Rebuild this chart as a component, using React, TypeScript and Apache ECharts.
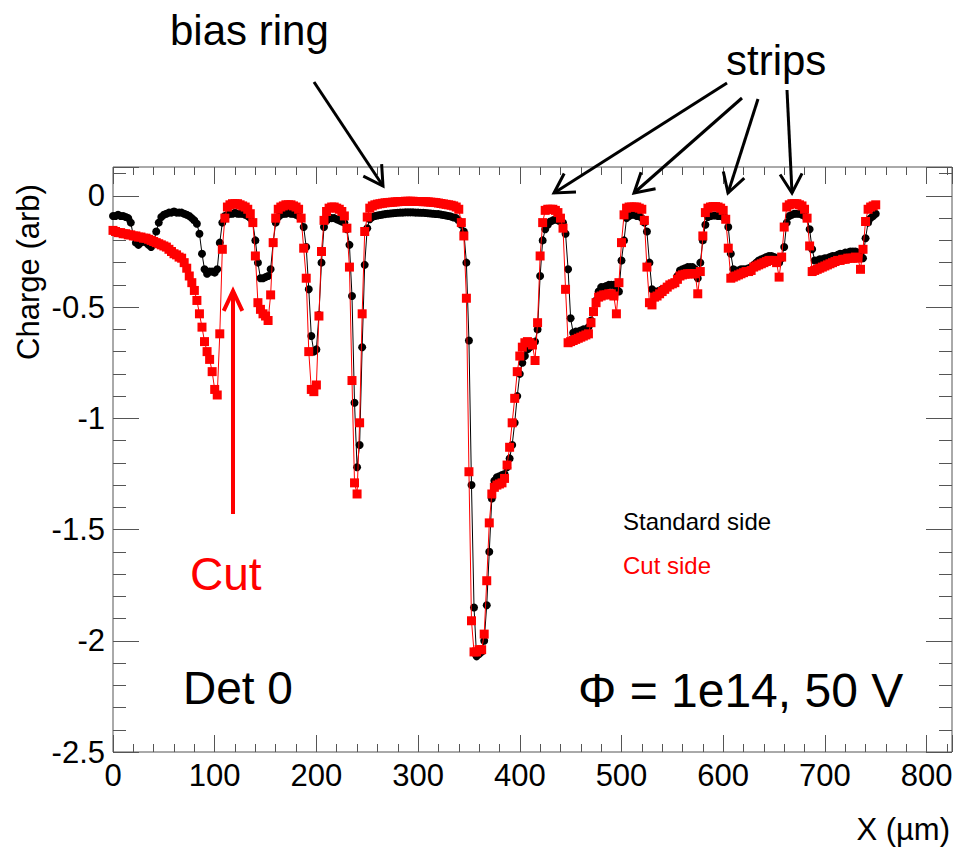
import React, { useEffect, useRef } from 'react';
import * as echarts from 'echarts';

// ---- scan grid (µm) ----
const X_START = 0;
const X_STEP = 2.5;

// ---- axis ranges / ticks ----
const X_MIN = 0;
const X_MAX = 825;
const X_MAJOR = 100;
const X_MINOR = 20;
const Y_MIN = -2.5;
const Y_MAX = 0.13;
const Y_MAJOR = 0.5;
const Y_MINOR = 0.1;

// ---- Standard side (black circles), one value per scan step ----
const STD_SIDE = [
  /*   0 */ -0.09, -0.09, -0.085, -0.09, -0.09, -0.095, -0.10, -0.12, -0.18, -0.21,
  /*  25 */ -0.22, -0.21, -0.20, -0.21, -0.22, -0.23, -0.21, -0.16, -0.12, -0.095,
  /*  50 */ -0.085, -0.08, -0.075, -0.075, -0.07, -0.075, -0.075, -0.075, -0.08, -0.085,
  /*  75 */ -0.09, -0.10, -0.11, -0.125, -0.17, -0.26, -0.33, -0.35, -0.34, -0.34,
  /* 100 */ -0.345, -0.33, -0.21, -0.12, -0.09, -0.085, -0.08, -0.08, -0.075, -0.08,
  /* 125 */ -0.08, -0.08, -0.085, -0.09, -0.10, -0.12, -0.20, -0.30, -0.37, -0.37,
  /* 150 */ -0.365, -0.36, -0.33, -0.21, -0.12, -0.095, -0.085, -0.08, -0.08, -0.075,
  /* 175 */ -0.08, -0.08, -0.085, -0.09, -0.10, -0.14, -0.23, -0.42, -0.63, -0.70,
  /* 200 */ -0.69, -0.535, -0.30, -0.14, -0.11, -0.10, -0.10, -0.10, -0.105, -0.11,
  /* 225 */ -0.115, -0.12, -0.15, -0.22, -0.45, -0.93, -1.22, -1.12, -0.68, -0.31,
  /* 250 */ -0.145, -0.105, -0.095, -0.09, -0.088, -0.086, -0.084, -0.082, -0.08, -0.079,
  /* 275 */ -0.078, -0.077, -0.076, -0.075, -0.075, -0.074, -0.074, -0.074, -0.074, -0.075,
  /* 300 */ -0.075, -0.076, -0.076, -0.077, -0.078, -0.079, -0.08, -0.081, -0.082, -0.084,
  /* 325 */ -0.086, -0.088, -0.09, -0.093, -0.097, -0.10, -0.11, -0.13, -0.16, -0.30,
  /* 350 */ -0.65, -1.30, -1.85, -2.07, -2.06, -2.05, -2.00, -1.84, -1.60, -1.36,
  /* 375 */ -1.28, -1.265, -1.26, -1.255, -1.25, -1.22, -1.18, -1.12, -1.02, -0.90,
  /* 400 */ -0.80, -0.75, -0.72, -0.69, -0.68, -0.665, -0.655, -0.60, -0.36, -0.20,
  /* 425 */ -0.15, -0.13, -0.115, -0.11, -0.105, -0.11, -0.115, -0.12, -0.17, -0.33,
  /* 450 */ -0.55, -0.615, -0.61, -0.61, -0.605, -0.60, -0.60, -0.59, -0.56, -0.52,
  /* 475 */ -0.47, -0.43, -0.41, -0.41, -0.405, -0.40, -0.40, -0.40, -0.41, -0.43,
  /* 500 */ -0.29, -0.20, -0.10, -0.09, -0.085, -0.085, -0.09, -0.09, -0.10, -0.12,
  /* 525 */ -0.16, -0.30, -0.42, -0.43, -0.43, -0.425, -0.42, -0.415, -0.41, -0.40,
  /* 550 */ -0.395, -0.39, -0.36, -0.335, -0.33, -0.325, -0.32, -0.32, -0.32, -0.33,
  /* 575 */ -0.37, -0.30, -0.20, -0.13, -0.095, -0.09, -0.088, -0.088, -0.09, -0.09,
  /* 600 */ -0.095, -0.10, -0.14, -0.26, -0.33, -0.335, -0.335, -0.33, -0.33, -0.33,
  /* 625 */ -0.325, -0.32, -0.31, -0.30, -0.29, -0.285, -0.28, -0.275, -0.27, -0.27,
  /* 650 */ -0.275, -0.28, -0.30, -0.28, -0.23, -0.12, -0.09, -0.085, -0.08, -0.08,
  /* 675 */ -0.08, -0.085, -0.09, -0.10, -0.15, -0.24, -0.29, -0.29, -0.285, -0.285,
  /* 700 */ -0.28, -0.28, -0.275, -0.27, -0.27, -0.265, -0.26, -0.26, -0.255, -0.255,
  /* 725 */ -0.25, -0.25, -0.25, -0.255, -0.26, -0.28, -0.19, -0.12, -0.10, -0.09,
  /* 750 */ -0.08,
];

// ---- Cut side (red squares), one value per scan step ----
const CUT_SIDE = [
  /*   0 */ -0.155, -0.16, -0.165, -0.165, -0.17, -0.17, -0.175, -0.175, -0.18, -0.18,
  /*  25 */ -0.185, -0.185, -0.19, -0.19, -0.195, -0.20, -0.205, -0.21, -0.215, -0.22,
  /*  50 */ -0.225, -0.23, -0.24, -0.25, -0.26, -0.265, -0.275, -0.28, -0.30, -0.325,
  /*  75 */ -0.36, -0.39, -0.425, -0.47, -0.53, -0.59, -0.655, -0.70, -0.735, -0.79,
  /* 100 */ -0.87, -0.895, -0.62, -0.24, -0.10, -0.05, -0.04, -0.035, -0.035, -0.035,
  /* 125 */ -0.04, -0.045, -0.05, -0.06, -0.08, -0.12, -0.27, -0.48, -0.51, -0.53,
  /* 150 */ -0.54, -0.56, -0.445, -0.21, -0.10, -0.06, -0.05, -0.045, -0.04, -0.04,
  /* 175 */ -0.04, -0.045, -0.05, -0.06, -0.10, -0.235, -0.37, -0.70, -0.87, -0.88,
  /* 200 */ -0.85, -0.54, -0.25, -0.11, -0.07, -0.055, -0.05, -0.05, -0.055, -0.06,
  /* 225 */ -0.07, -0.09, -0.145, -0.32, -0.83, -1.29, -1.34, -1.02, -0.53, -0.16,
  /* 250 */ -0.095, -0.055, -0.045, -0.04, -0.037, -0.035, -0.033, -0.031, -0.03, -0.029,
  /* 275 */ -0.028, -0.027, -0.026, -0.025, -0.025, -0.024, -0.024, -0.024, -0.024, -0.025,
  /* 300 */ -0.025, -0.025, -0.026, -0.026, -0.027, -0.028, -0.029, -0.03, -0.032, -0.034,
  /* 325 */ -0.036, -0.038, -0.04, -0.042, -0.045, -0.05, -0.06, -0.12, -0.18, -0.46,
  /* 350 */ -1.24, -1.91, -2.05, -2.05, -2.04, -2.04, -1.97, -1.73, -1.47, -1.34,
  /* 375 */ -1.31, -1.30, -1.295, -1.29, -1.27, -1.21, -1.13, -1.02, -0.91, -0.79,
  /* 400 */ -0.72, -0.68, -0.66, -0.655, -0.66, -0.67, -0.74, -0.57, -0.27, -0.12,
  /* 425 */ -0.065, -0.06, -0.06, -0.06, -0.065, -0.075, -0.10, -0.145, -0.42, -0.66,
  /* 450 */ -0.655, -0.65, -0.645, -0.64, -0.635, -0.63, -0.625, -0.62, -0.57, -0.52,
  /* 475 */ -0.48, -0.455, -0.45, -0.445, -0.445, -0.44, -0.44, -0.45, -0.53, -0.39,
  /* 500 */ -0.21, -0.085, -0.055, -0.05, -0.05, -0.05, -0.05, -0.055, -0.06, -0.11,
  /* 525 */ -0.32, -0.48, -0.49, -0.455, -0.45, -0.44, -0.43, -0.42, -0.41, -0.40,
  /* 550 */ -0.395, -0.39, -0.375, -0.36, -0.355, -0.352, -0.35, -0.35, -0.35, -0.35,
  /* 575 */ -0.44, -0.34, -0.18, -0.075, -0.055, -0.05, -0.048, -0.048, -0.05, -0.055,
  /* 600 */ -0.065, -0.105, -0.235, -0.37, -0.365, -0.36, -0.355, -0.35, -0.345, -0.34,
  /* 625 */ -0.34, -0.335, -0.32, -0.315, -0.31, -0.305, -0.30, -0.295, -0.29, -0.29,
  /* 650 */ -0.29, -0.30, -0.365, -0.275, -0.14, -0.05, -0.04, -0.035, -0.035, -0.035,
  /* 675 */ -0.04, -0.045, -0.06, -0.10, -0.225, -0.34, -0.335, -0.33, -0.325, -0.32,
  /* 700 */ -0.315, -0.31, -0.305, -0.30, -0.295, -0.29, -0.29, -0.285, -0.285, -0.28,
  /* 725 */ -0.28, -0.28, -0.275, -0.28, -0.33, -0.24, -0.115, -0.06, -0.05, -0.045,
  /* 750 */ -0.04,
];

const SERIES_NAMES = ['Standard side', 'Cut side'];

const FONT = '"Liberation Sans", Arial, Helvetica, sans-serif';
const FRAME = '#555';
const RED = '#ff0000';

function toPairs(vals: number[]) {
  return vals.map((v, i) => [X_START + i * X_STEP, v]);
}

function xAxisDef(position: string, interval: number, len: number, labels: boolean) {
  return {
    type: 'value',
    position,
    min: X_MIN,
    max: X_MAX,
    interval,
    axisLine: { show: false, onZero: false },
    axisTick: { show: true, inside: true, length: len, lineStyle: { color: FRAME, width: 1 } },
    axisLabel: labels
      ? {
          show: true,
          margin: 8,
          color: '#000',
          fontSize: 31,
          fontFamily: FONT,
          showMinLabel: true,
          formatter: (v: number) => (Math.abs(v % X_MAJOR) < 1e-6 ? String(v) : ''),
        }
      : { show: false },
    splitLine: { show: false },
  };
}

function yAxisDef(position: string, interval: number, len: number, labels: boolean) {
  return {
    type: 'value',
    position,
    min: Y_MIN,
    max: Y_MAX,
    interval,
    axisLine: { show: false, onZero: false },
    axisTick: { show: true, inside: true, length: len, lineStyle: { color: FRAME, width: 1 } },
    axisLabel: labels
      ? {
          show: true,
          margin: 8,
          color: '#000',
          fontSize: 31,
          fontFamily: FONT,
          showMinLabel: true,
          formatter: (v: number) => {
            const r = Math.round(v / Y_MAJOR);
            return Math.abs(v / Y_MAJOR - r) < 1e-6 ? String(Number((r * Y_MAJOR).toFixed(2)) || 0) : '';
          },
        }
      : { show: false },
    splitLine: { show: false },
  };
}

function arrow(x1: number, y1: number, x2: number, y2: number, color: string, width: number, headLen = 22, half = Math.PI / 6) {
  const ang = Math.atan2(y1 - y2, x1 - x2);
  const w1 = [x2 + headLen * Math.cos(ang + half), y2 + headLen * Math.sin(ang + half)];
  const w2 = [x2 + headLen * Math.cos(ang - half), y2 + headLen * Math.sin(ang - half)];
  return [
    { type: 'line', z: 100, shape: { x1, y1, x2, y2 }, style: { stroke: color, lineWidth: width } },
    {
      type: 'polyline',
      z: 100,
      shape: { points: [w1, [x2, y2], w2] },
      style: { stroke: color, lineWidth: width, fill: null, lineJoin: 'miter' },
    },
  ];
}

function label(text: string, x: number, y: number, size: number, color = '#000', align = 'left', extra: any = {}) {
  return {
    type: 'text',
    z: 100,
    x,
    y,
    ...extra,
    style: { text, fontSize: size, fontFamily: FONT, fill: color, align, verticalAlign: 'middle' },
  };
}

export default function App() {
  const ref = useRef<HTMLDivElement>(null);

  useEffect(() => {
    document.body.style.margin = '0';
    const chart = echarts.init(ref.current as HTMLDivElement, null, { renderer: 'svg' });

    const option: any = {
      animation: false,
      backgroundColor: '#fff',
      grid: {
        left: 113,
        right: 7,
        top: 167,
        bottom: 97,
        show: true,
        borderColor: FRAME,
        borderWidth: 1,
        backgroundColor: 'transparent',
      },
      xAxis: [
        xAxisDef('bottom', X_MAJOR, 17, true),
        xAxisDef('bottom', X_MINOR, 8, false),
        xAxisDef('top', X_MAJOR, 17, false),
        xAxisDef('top', X_MINOR, 8, false),
      ],
      yAxis: [
        yAxisDef('left', Y_MAJOR, 26, true),
        yAxisDef('left', Y_MINOR, 13, false),
        yAxisDef('right', Y_MAJOR, 26, false),
        yAxisDef('right', Y_MINOR, 13, false),
      ],
      series: [
        {
          type: 'line',
          name: SERIES_NAMES[0],
          data: toPairs(STD_SIDE),
          xAxisIndex: 0,
          yAxisIndex: 0,
          symbol: 'circle',
          symbolSize: 8,
          showSymbol: true,
          showAllSymbol: true,
          itemStyle: { color: '#000' },
          lineStyle: { color: '#000', width: 1 },
          z: 3,
        },
        {
          type: 'line',
          name: SERIES_NAMES[1],
          data: toPairs(CUT_SIDE),
          xAxisIndex: 0,
          yAxisIndex: 0,
          symbol: 'rect',
          symbolSize: 9,
          showSymbol: true,
          showAllSymbol: true,
          itemStyle: { color: RED },
          lineStyle: { color: RED, width: 1 },
          z: 4,
        },
      ],
      graphic: [
        label('bias ring', 170, 30, 42),
        label('strips', 726, 60, 42),
        label('Cut', 190, 574, 46, RED),
        label('Det 0', 183, 688, 46),
        label('\u03A6 = 1e14, 50 V', 578, 690, 48),
        label(SERIES_NAMES[0], 623, 521, 24),
        label(SERIES_NAMES[1], 623, 565, 24, RED),
        label('X (\u00B5m)', 950, 829, 31, '#000', 'right'),
        label('Charge (arb)', 28, 272, 31, '#000', 'center', { rotation: Math.PI / 2 }),
        ...arrow(314, 82, 383, 186, '#000', 3),
        ...arrow(727, 83, 554, 193, '#000', 3),
        ...arrow(742, 98, 634, 193, '#000', 3),
        ...arrow(758, 99, 728, 193, '#000', 3),
        ...arrow(787, 90, 792, 193, '#000', 3),
        ...arrow(233, 514, 233, 291, RED, 4, 22, (25 * Math.PI) / 180),
      ],
    };

    chart.setOption(option);
    return () => chart.dispose();
  }, []);

  return (
    <div
      ref={ref}
      style={{ position: 'absolute', left: 0, top: 0, width: 959, height: 849, background: '#fff' }}
    />
  );
}
